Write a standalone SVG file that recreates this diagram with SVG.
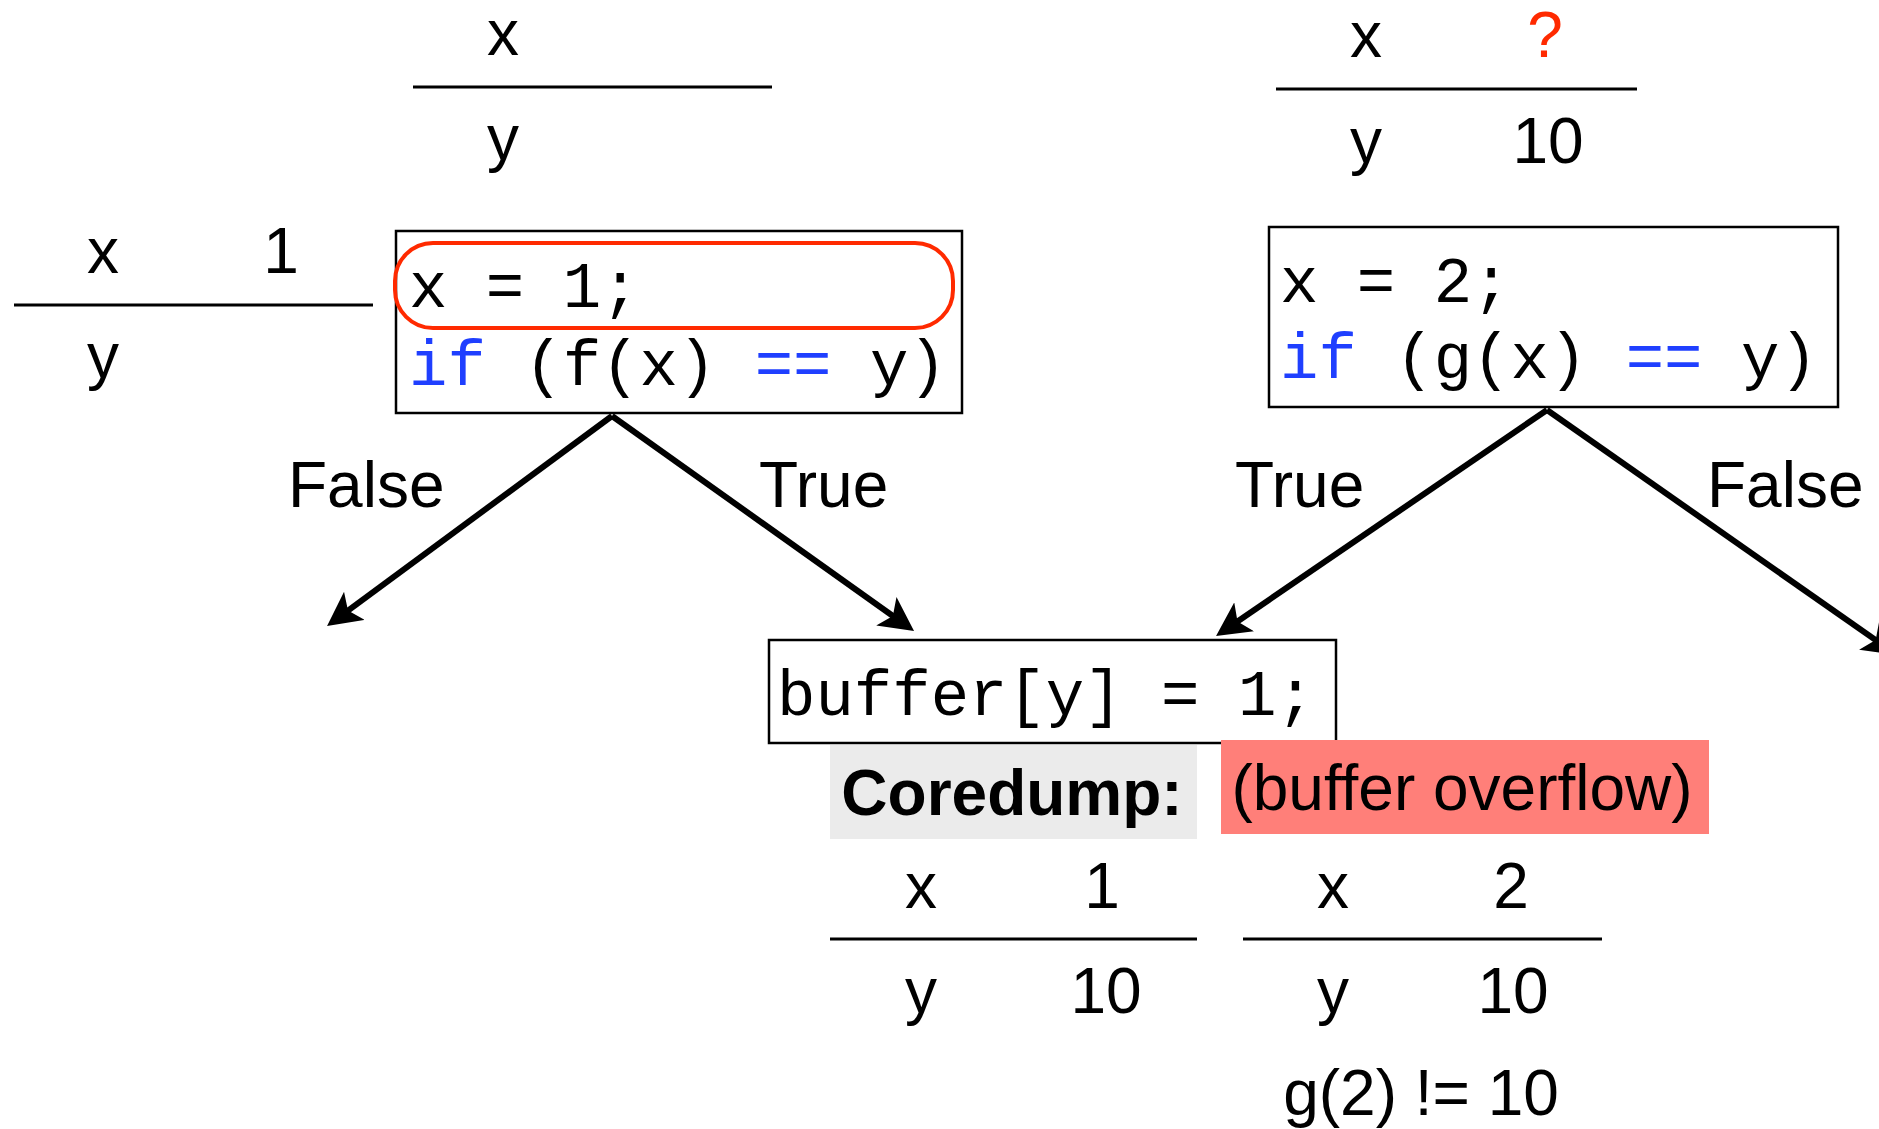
<svg xmlns="http://www.w3.org/2000/svg" width="1879" height="1129" viewBox="0 0 1879 1129">
<style>
.t{font-family:"Liberation Sans",Arial,sans-serif;font-size:64px;fill:#000}
.m{font-family:"Liberation Mono","Courier New",monospace;font-size:64px;fill:#000;white-space:pre}
.b{font-weight:bold}
.c{text-anchor:middle}
.kw{fill:#1f3fff}
.red{fill:#ff2a00}
.box{fill:#fff;stroke:#000;stroke-width:2.5}
.rule{stroke:#000;stroke-width:3}
.edge{stroke:#000;stroke-width:6;fill:none}
</style>
<defs>
<marker id="arr" markerUnits="userSpaceOnUse" viewBox="0 0 34 35" refX="24" refY="17.5" markerWidth="34" markerHeight="35" orient="auto">
<path d="M0,0 L34,17.5 L0,35 L8,17.5 Z" fill="#000"/>
</marker>
</defs>
<rect width="1879" height="1129" fill="#fff"/>

<g id="state-top-left">
<text class="t c" x="503" y="55">x</text>
<line class="rule" x1="413" y1="87" x2="772" y2="87"/>
<text class="t c" x="503" y="160">y</text>
</g>

<g id="state-top-right">
<text class="t c" x="1366" y="57">x</text>
<text class="t c red" x="1545" y="57">?</text>
<line class="rule" x1="1276" y1="89" x2="1637" y2="89"/>
<text class="t c" x="1366" y="163">y</text>
<text class="t c" x="1548" y="163">10</text>
</g>

<g id="state-left">
<text class="t c" x="103" y="273">x</text>
<text class="t c" x="281" y="273">1</text>
<line class="rule" x1="14" y1="305" x2="373" y2="305"/>
<text class="t c" x="103" y="378">y</text>
</g>

<g id="code-f">
<rect class="box" x="396" y="231" width="566" height="182"/>
<rect x="395" y="243" width="558" height="85" rx="38" ry="38" fill="none" stroke="#ff2a00" stroke-width="4"/>
<text class="m" x="409" y="307">x = 1;</text>
<text class="m" x="409" y="385"><tspan class="kw">if</tspan> (f(x) <tspan class="kw">==</tspan> y)</text>
</g>

<g id="code-g">
<rect class="box" x="1269" y="227" width="569" height="180"/>
<text class="m" x="1280" y="302">x = 2;</text>
<text class="m" x="1280" y="378"><tspan class="kw">if</tspan> (g(x) <tspan class="kw">==</tspan> y)</text>
</g>

<g id="connectors">
<line class="edge" x1="612" y1="416" x2="335.1" y2="620.1" marker-end="url(#arr)"/>
<line class="edge" x1="612" y1="416" x2="905.9" y2="625.2" marker-end="url(#arr)"/>
<line class="edge" x1="1547" y1="410" x2="1224.3" y2="630.4" marker-end="url(#arr)"/>
<line class="edge" x1="1547" y1="410" x2="1888.8" y2="649.3" marker-end="url(#arr)"/>
<text class="t" x="288" y="507">False</text>
<text class="t" x="759" y="507">True</text>
<text class="t" x="1235" y="507">True</text>
<text class="t" x="1707" y="507">False</text>
</g>

<g id="code-buffer">
<rect class="box" x="769" y="640" width="567" height="103"/>
<text class="m" x="777" y="715">buffer[y] = 1;</text>
</g>

<g id="coredump-label">
<rect x="830" y="745" width="367" height="94" fill="#ebebeb"/>
<text class="t b c" x="1012" y="815">Coredump:</text>
</g>

<g id="overflow-label">
<rect x="1221" y="740" width="488" height="94" fill="#ff7f79"/>
<text class="t c" x="1462" y="810">(buffer overflow)</text>
</g>

<g id="state-dump-1">
<text class="t c" x="921" y="908">x</text>
<text class="t c" x="1102" y="908">1</text>
<line class="rule" x1="830" y1="939" x2="1197" y2="939"/>
<text class="t c" x="921" y="1013">y</text>
<text class="t c" x="1106" y="1013">10</text>
</g>

<g id="state-dump-2">
<text class="t c" x="1333" y="908">x</text>
<text class="t c" x="1511" y="908">2</text>
<line class="rule" x1="1243" y1="939" x2="1602" y2="939"/>
<text class="t c" x="1333" y="1013">y</text>
<text class="t c" x="1513" y="1013">10</text>
<text class="t c" x="1421" y="1115">g(2) != 10</text>
</g>
</svg>
